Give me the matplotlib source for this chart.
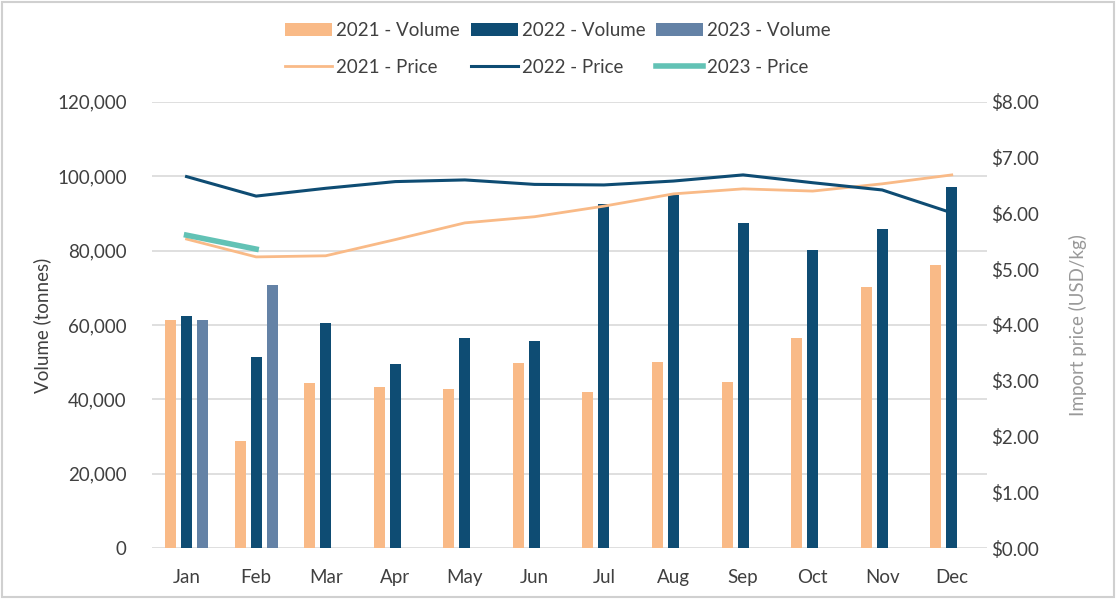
import numpy as np
import matplotlib
matplotlib.use("Agg")
from matplotlib import pyplot as plt
from matplotlib.ticker import FuncFormatter

plt.rcParams['font.family'] = ['Lato', 'DejaVu Sans']

months = ["Jan", "Feb", "Mar", "Apr", "May", "Jun", "Jul", "Aug", "Sep", "Oct", "Nov", "Dec"]

vol_2021 = [61300, 28700, 44400, 43400, 42800, 49900, 42100, 50000, 44700, 56400, 70200, 76100]
vol_2022 = [62300, 51300, 60400, 49500, 56600, 55800, 92500, 95000, 87300, 80100, 85700, 97000]
vol_2023 = [61200, 70800]

price_2021 = [5.54, 5.22, 5.24, 5.53, 5.83, 5.94, 6.13, 6.35, 6.44, 6.40, 6.53, 6.69]
price_2022 = [6.66, 6.31, 6.45, 6.57, 6.60, 6.52, 6.51, 6.58, 6.69, 6.55, 6.42, 6.01]
price_2023 = [5.61, 5.36]

c21 = '#F9BA87'
c22 = '#0E4C73'
c23 = '#6482A6'
c23p = '#62C2B5'
txt = '#404040'

x = np.arange(len(months))
w = 0.158
off = 0.23

fig = plt.figure(figsize=(11.16, 5.99), dpi=100)
ax = fig.add_axes([0.136, 0.085, 0.748, 0.745])
ax2 = ax.twinx()

b1 = ax.bar(x - off, vol_2021, w, color=c21, label='2021 - Volume', zorder=3)
b2 = ax.bar(x, vol_2022, w, color=c22, label='2022 - Volume', zorder=3)
b3 = ax.bar(x[:len(vol_2023)] + off, vol_2023, w, color=c23, label='2023 - Volume', zorder=3)

l1, = ax2.plot(x, price_2021, color=c21, lw=2, label='2021 - Price')
l2, = ax2.plot(x, price_2022, color=c22, lw=2.2, label='2022 - Price')
l3, = ax2.plot(x[:len(price_2023)], price_2023, color=c23p, lw=4, label='2023 - Price')

ax.set_xlim(-0.5, 11.5)
ax.set_ylim(0, 120000)
ax.set_yticks(np.arange(0, 120001, 20000))
ax.yaxis.set_major_formatter(FuncFormatter(lambda v, p: f"{int(v):,}"))
ax2.set_ylim(0, 8)
ax2.set_yticks(np.arange(0, 9, 1))
ax2.yaxis.set_major_formatter(FuncFormatter(lambda v, p: f"${v:.2f}"))

ax.set_xticks(x)
ax.set_xticklabels(months)
ax.grid(axis='y', color='#D9D9D9', lw=1.2, zorder=0)
ax.set_axisbelow(True)

for a in (ax, ax2):
    for s in a.spines.values():
        s.set_visible(False)
    a.tick_params(length=0, labelsize=13.5, labelcolor=txt)
ax.tick_params(axis='y', pad=18)
ax.tick_params(axis='x', pad=15)
ax2.tick_params(axis='y', pad=3)

ax.set_ylabel('Volume (tonnes)', fontsize=13.5, color=txt, labelpad=4)
ax2.set_ylabel('Import price (USD/kg)', fontsize=13.5, color='#999999', labelpad=22)

handles = [b1, l1, b2, l2, b3, l3]
fig.legend(handles=handles, labels=[h.get_label() for h in handles], ncol=3,
           loc='center', bbox_to_anchor=(0.5, 0.918), frameon=False,
           fontsize=13.5, labelcolor=txt, handlelength=2.5, handletextpad=0.2,
           columnspacing=0.6, labelspacing=1.05)

border = plt.Rectangle((0.002, 0.003), 0.996, 0.994, transform=fig.transFigure,
                       fill=False, edgecolor='#D0D0D0', lw=1.5)
fig.patches.append(border)

fig.savefig('out.png', dpi=100)
